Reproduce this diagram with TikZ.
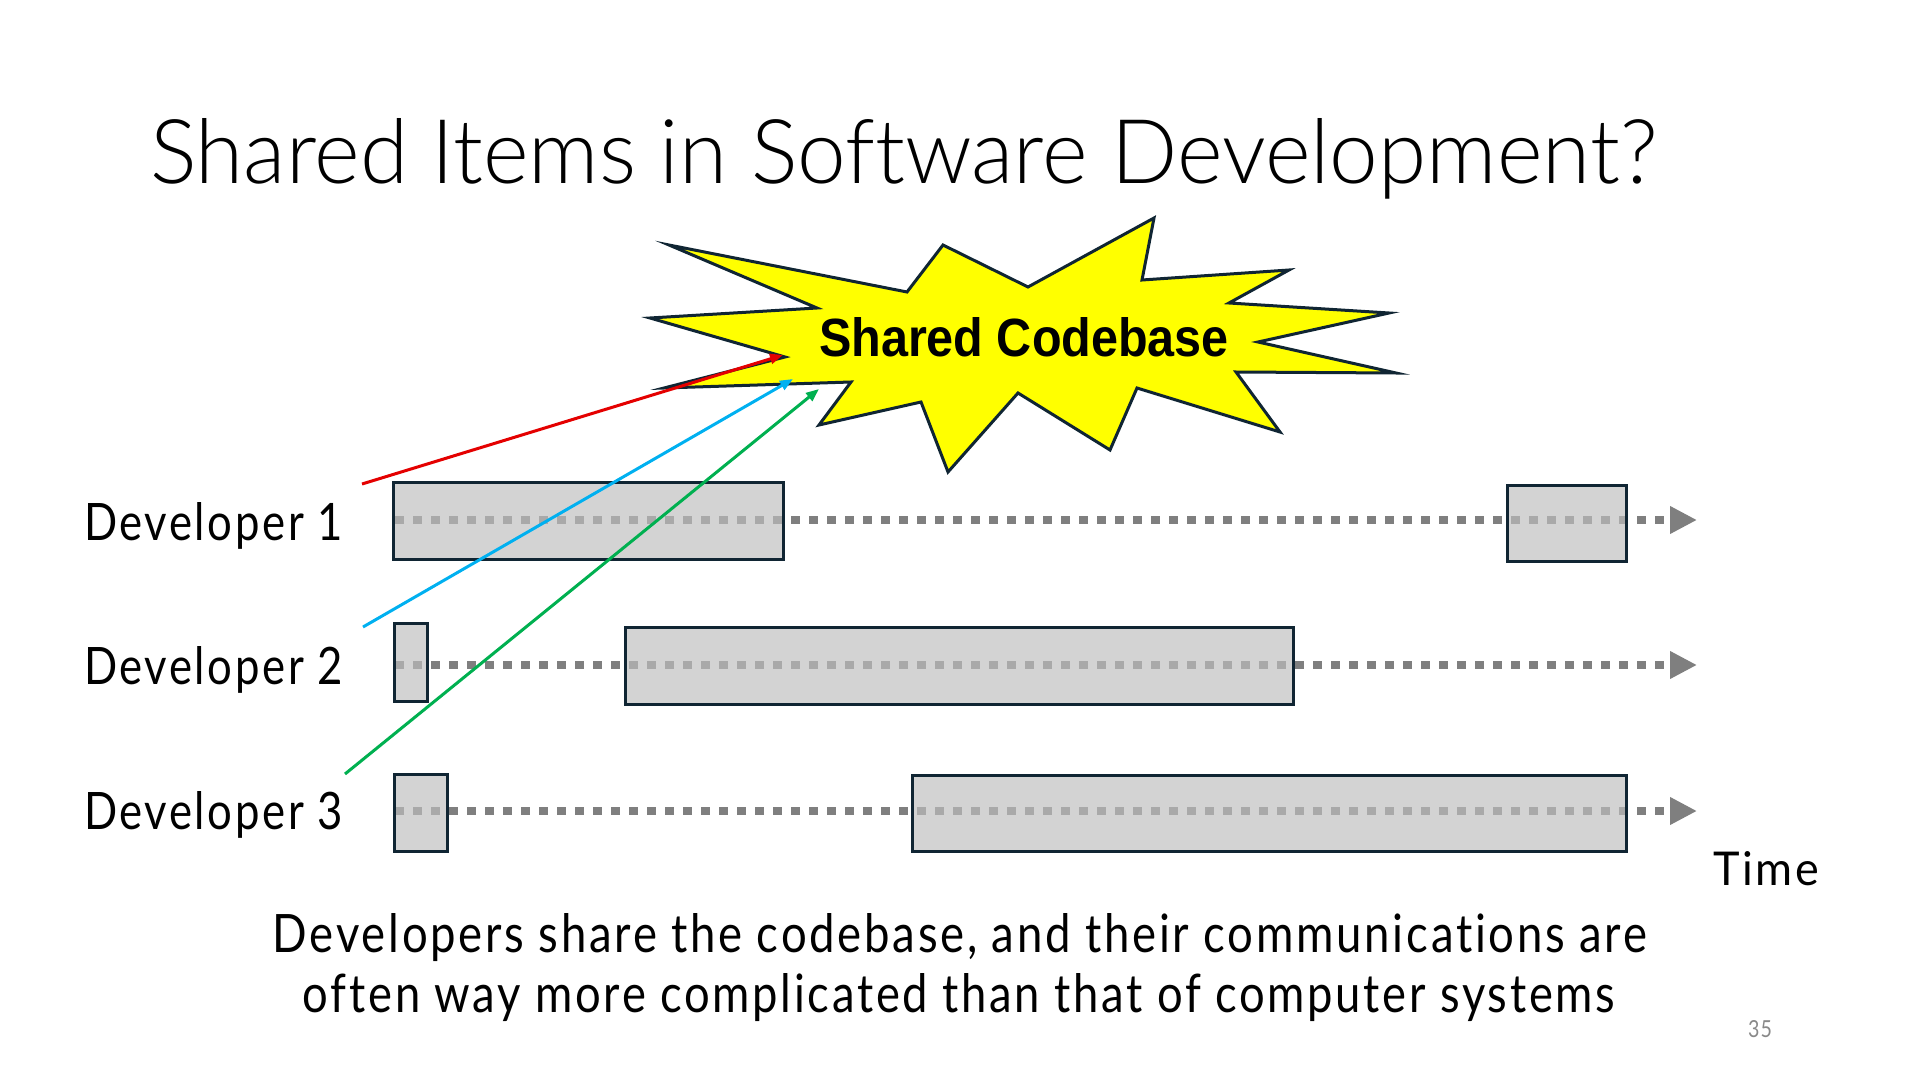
\documentclass[tikz,border=0pt]{standalone}
\usepackage{fontspec}
\setmainfont{Liberation Sans}
\newfontfamily\titlefont{Lato Light}[Ligatures=NoCommon]
\newfontfamily\bodyfont{Lato}[LetterSpace=6,Ligatures=NoCommon]
\usetikzlibrary{arrows.meta}
\definecolor{outl}{RGB}{16,37,51}
\definecolor{dotc}{RGB}{127,127,127}
\definecolor{boxf}{RGB}{190,190,190}
\definecolor{redc}{RGB}{228,0,0}
\definecolor{bluec}{RGB}{0,176,240}
\definecolor{greenc}{RGB}{0,176,80}
\definecolor{pagec}{RGB}{137,137,137}
\definecolor{staryellow}{RGB}{255,255,0}
\begin{document}
\begin{tikzpicture}[x=0.5pt,y=-0.5pt,
  lbl/.style={inner sep=0pt, outer sep=0pt, anchor=base west, font=\bodyfont},
  ctr/.style={inner sep=0pt, outer sep=0pt, anchor=base, font=\bodyfont},
  tl/.style={draw=dotc, line width=4.25pt, dash pattern=on 4.5pt off 4.5pt,
     -{Triangle[length=13.5pt,width=13pt]}},
  act/.style={draw=outl, line width=1.5pt, fill=boxf, fill opacity=0.67,
     anchor=north west, inner sep=0pt, outer sep=0pt},
  comm/.style={line width=1.5pt, -{Triangle[length=6.5pt,width=5pt]}},
  starshape/.style={draw=outl, line width=1.5pt, fill=staryellow, line join=miter}
]
\useasboundingbox (0,0) rectangle (1920,1080);

% title
\node[lbl] (title) at (150,184) {\resizebox{753.5pt}{32.5pt}{\titlefont Shared Items in Software Development?}};

% time lines
\coordinate (s1) at (395,520); \coordinate (e1) at (1697,520);
\coordinate (s2) at (395,665); \coordinate (e2) at (1697,665);
\coordinate (s3) at (395,811); \coordinate (e3) at (1697,811);
\draw[tl] (s1) -- (e1);
\draw[tl] (s2) -- (e2);
\draw[tl] (s3) -- (e3);

% activity boxes
\node[act, minimum width=195pt, minimum height=38.5pt] (d1a) at (393,482) {};
\node[act, minimum width=59.5pt, minimum height=38pt] (d1b) at (1507,485) {};
\node[act, minimum width=16.5pt, minimum height=39pt] (d2a) at (394,623) {};
\node[act, minimum width=334pt, minimum height=38.5pt] (d2b) at (625,627) {};
\node[act, minimum width=26.5pt, minimum height=38.5pt] (d3a) at (394,774) {};
\node[act, minimum width=357pt, minimum height=38pt] (d3b) at (912,775) {};

% star
\draw[starshape] (669,245) -- (907,292) -- (943,245) -- (1028,287) -- (1154,218)
  -- (1142,280) -- (1289,270) -- (1229,303) -- (1389,313) -- (1258,342)
  -- (1396,373) -- (1236,372) -- (1280,432) -- (1137,388) -- (1110,450)
  -- (1018,393) -- (948,472) -- (921,402) -- (819,425) -- (851,382)
  -- (664,388) -- (785,357) -- (650,318) -- (817,308) -- cycle;
\node[inner sep=0pt, outer sep=0pt, anchor=base] (sc) at (1024,357) {\resizebox{205pt}{19.5pt}{\bfseries Shared Codebase}};

% labels
\node[lbl] (n1) at (84,540) {\resizebox{129.5pt}{19pt}{Developer 1}};
\node[lbl] (n2) at (84,684) {\resizebox{129.5pt}{19pt}{Developer 2}};
\node[lbl] (n3) at (84,829) {\resizebox{129.5pt}{19pt}{Developer 3}};
\node[lbl] (time) at (1713,885) {\resizebox{53pt}{17pt}{Time}};

% communication arrows
\coordinate (r0) at (362,484); \coordinate (r1) at (783,355);
\coordinate (b0) at (363,627); \coordinate (b1) at (793,379);
\coordinate (g0) at (345,774); \coordinate (g1) at (819,389);
\draw[comm, redc] (r0) -- (r1);
\draw[comm, bluec] (b0) -- (b1);
\draw[comm, greenc] (g0) -- (g1);

% caption
\node[ctr] (cap1) at (960,952) {\resizebox{687pt}{19.5pt}{Developers share the codebase, and their communications are}};
\node[ctr] (cap2) at (959,1012) {\resizebox{656pt}{19.5pt}{often way more complicated than that of computer systems}};

% page number
\node[lbl, text=pagec] (pg) at (1748,1037) {\resizebox{12pt}{8.5pt}{35}};
\end{tikzpicture}
\end{document}
